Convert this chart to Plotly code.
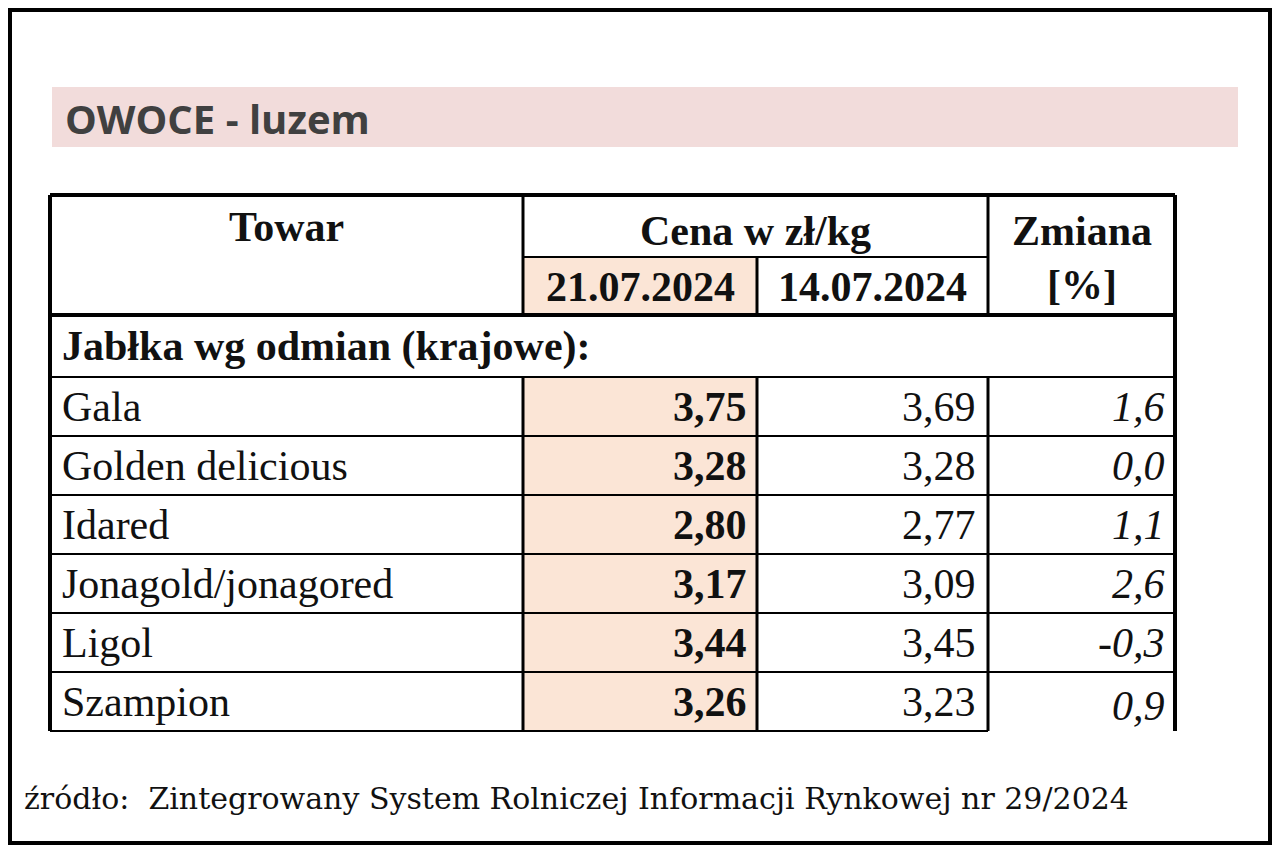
import plotly.graph_objects as go

title = "OWOCE - luzem"
group_label = "Jabłka wg odmian (krajowe):"
varieties = ["Gala", "Golden delicious", "Idared", "Jonagold/jonagored", "Ligol", "Szampion"]
price_now = ["3,75", "3,28", "2,80", "3,17", "3,44", "3,26"]
price_prev = ["3,69", "3,28", "2,77", "3,09", "3,45", "3,23"]
change = ["1,6", "0,0", "1,1", "2,6", "-0,3", "0,9"]
date_now = "21.07.2024"
date_prev = "14.07.2024"
source = "źródło:  Zintegrowany System Rolniczej Informacji Rynkowej nr 29/2024"

W, H = 1280, 853
OFF = 8  # page body margin
cols = [50, 523, 757, 988, 1175]
top, h1, h2, cat_bottom = 195, 257, 315, 377
row_h = 59
rows_y = [cat_bottom + i * row_h for i in range(len(varieties) + 1)]
bottom = rows_y[-1]

SERIF = "Liberation Serif, Times New Roman, serif"
FS = 42
shapes, ann = [], []

def line(x0, y0, x1, y1, w=2):
    shapes.append(dict(type="line", x0=x0, y0=y0, x1=x1, y1=y1,
                       line=dict(color="black", width=w)))

def text(x, y, s, size=FS, bold=False, italic=False, anchor="left", family=SERIF, color="#111"):
    if bold:
        s = f"<b>{s}</b>"
    if italic:
        s = f"<i>{s}</i>"
    ann.append(dict(x=x, y=y, text=s, showarrow=False, xanchor=anchor, yanchor="middle",
                    font=dict(family=family, size=size, color=color)))

# frame of the picture
shapes.append(dict(type="rect", x0=OFF + 2, y0=OFF + 2, x1=W - OFF - 2, y1=H - OFF - 2,
                   line=dict(color="black", width=4)))
# title bar
shapes.append(dict(type="rect", x0=52, y0=87, x1=1238, y1=147, fillcolor="#f2dcdb", line=dict(width=0), layer="below"))
text(63, 118, title, size=40, bold=True, family="Open Sans, sans-serif", color="#404040")

# shaded current-date column
shapes.append(dict(type="rect", x0=cols[1], y0=h1, x1=cols[2], y1=h2, fillcolor="#fbe5d6", line=dict(width=0), layer="below"))
shapes.append(dict(type="rect", x0=cols[1], y0=cat_bottom, x1=cols[2], y1=bottom, fillcolor="#fbe5d6", line=dict(width=0), layer="below"))

# grid
line(cols[0], top, cols[4], top, 4)
line(cols[0], top, cols[0], bottom, 4)
line(cols[4], top, cols[4], bottom, 4)
line(cols[1], h1, cols[3], h1)
line(cols[0], h2, cols[4], h2, 4)
for c in cols[1:4]:
    line(c, top if c != cols[2] else h1, c, h2, 3)
for y in rows_y:
    line(cols[0], y, cols[3] if y == bottom else cols[4], y, 2)
for c in cols[1:4]:
    line(c, cat_bottom, c, bottom, 3)

# header
text((cols[0] + cols[1]) / 2, 227, "Towar", bold=True, anchor="center")
text((cols[1] + cols[3]) / 2, 231, "Cena w zł/kg", bold=True, anchor="center")
text((cols[1] + cols[2]) / 2, 287, date_now, bold=True, anchor="center")
text((cols[2] + cols[3]) / 2, 287, date_prev, bold=True, anchor="center")
text((cols[3] + cols[4]) / 2, 231, "Zmiana", bold=True, anchor="center")
text((cols[3] + cols[4]) / 2, 285, "[%]", bold=True, anchor="center")
text(cols[0] + 10, (h2 + cat_bottom) / 2, group_label, bold=True)

for i, name in enumerate(varieties):
    yc = (rows_y[i] + rows_y[i + 1]) / 2
    text(cols[0] + 10, yc, name)
    text(cols[2] - 8, yc, price_now[i], bold=True, anchor="right")
    text(cols[3] - 10, yc, price_prev[i], anchor="right")
    text(cols[4] - 8, yc + (4 if i == len(varieties) - 1 else 0), change[i], italic=True, anchor="right")

text(22, 798, source, size=30, family="DejaVu Serif, serif", color="#111")

fig = go.Figure()
fig.update_layout(width=W - 2 * OFF, height=H - 2 * OFF, margin=dict(l=0, r=0, t=0, b=0),
                  paper_bgcolor="white", plot_bgcolor="white",
                  xaxis=dict(range=[OFF, W - OFF], visible=False, fixedrange=True),
                  yaxis=dict(range=[H - OFF, OFF], visible=False, fixedrange=True),
                  shapes=shapes, annotations=ann, showlegend=False)
fig.write_html("out.html")
